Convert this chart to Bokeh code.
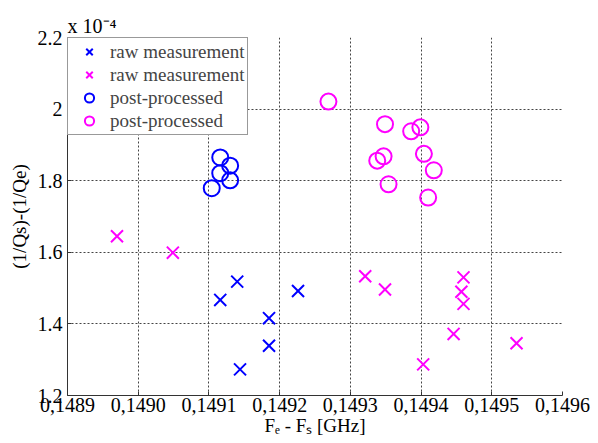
from bokeh.plotting import figure
from bokeh.models import (Range1d, FixedTicker, CustomJSTickFormatter, Legend,
                          LegendItem, Title)
from bokeh.embed import file_html
from bokeh.resources import INLINE

# ---- data (y in units of 1e-4) ----
raw_blue_x = [0.149140, 0.149116, 0.149185, 0.149185, 0.149144, 0.149226]
raw_blue_y = [1.518, 1.467, 1.416, 1.339, 1.273, 1.492]

raw_mag_x = [0.148970, 0.149049, 0.149321, 0.149349, 0.149460, 0.149457,
             0.149460, 0.149446, 0.149403, 0.149535]
raw_mag_y = [1.645, 1.599, 1.533, 1.496, 1.530, 1.490, 1.456, 1.372, 1.287, 1.346]

post_blue_x = [0.149116, 0.149130, 0.149116, 0.149130, 0.149104]
post_blue_y = [1.865, 1.842, 1.821, 1.801, 1.779]

post_mag_x = [0.149269, 0.149349, 0.149386, 0.149399, 0.149347, 0.149338,
              0.149404, 0.149418, 0.149354, 0.149410]
post_mag_y = [2.021, 1.958, 1.938, 1.949, 1.868, 1.856, 1.875, 1.829, 1.790, 1.753]

x_ticks = [0.1489, 0.1490, 0.1491, 0.1492, 0.1493, 0.1494, 0.1495, 0.1496]
x_tick_labels = ["0,1489", "0,1490", "0,1491", "0,1492", "0,1493", "0,1494", "0,1495", "0,1496"]
y_ticks = [1.2, 1.4, 1.6, 1.8, 2.0, 2.2]
y_tick_labels = ["1.2", "1.4", "1.6", "1.8", "2", "2.2"]

legend_labels = ["raw measurement", "raw measurement", "post-processed", "post-processed"]
x_label = "F\u2091 - F\u209b [GHz]"
y_label = "(1/Qs)-(1/Qe)"
scale_text = "x 10\u207b\u2074"

BLUE = "#0000ff"
MAG = "#ff00ff"
FONT = "Liberation Serif"

p = figure(width=597, height=442, output_backend="svg", toolbar_location=None,
           x_range=Range1d(x_ticks[0], x_ticks[-1]), y_range=Range1d(y_ticks[0], y_ticks[-1]),
           min_border_left=67, min_border_right=35, min_border_top=37, min_border_bottom=47)
p.outline_line_color = None
p.background_fill_color = "white"
p.border_fill_color = "white"

p.title = None
p.add_layout(Title(text=scale_text, align="left", text_font=FONT, text_font_size="20px",
                   text_font_style="normal", text_color="black", standoff=2, offset=0),
             "above")

fmt_js = """
const i = tvals.findIndex(t => Math.abs(t - tick) < 1e-9);
return i >= 0 ? tlabs[i] : "";
"""
p.xaxis.ticker = FixedTicker(ticks=x_ticks)
p.yaxis.ticker = FixedTicker(ticks=y_ticks)
p.xaxis.formatter = CustomJSTickFormatter(args=dict(tvals=x_ticks, tlabs=x_tick_labels), code=fmt_js)
p.yaxis.formatter = CustomJSTickFormatter(args=dict(tvals=y_ticks, tlabs=y_tick_labels), code=fmt_js)

for ax in (p.xaxis, p.yaxis):
    ax.major_tick_in = 4
    ax.major_tick_out = 0
    ax.minor_tick_line_color = None
    ax.axis_line_color = "#333333"
    ax.major_tick_line_color = "#333333"
    ax.major_label_text_font = FONT
    ax.major_label_text_font_size = "20px"
    ax.major_label_text_color = "black"
    ax.axis_label_text_font = FONT
    ax.axis_label_text_font_size = "19px"
    ax.axis_label_text_font_style = "normal"
    ax.axis_label_text_color = "black"
p.xaxis.major_label_standoff = 2
p.yaxis.major_label_standoff = 5
p.xaxis.axis_label = x_label
p.xaxis.axis_label_standoff = 0
p.yaxis.axis_label = y_label
p.yaxis.axis_label_standoff = 5

for g in (p.xgrid, p.ygrid):
    g.grid_line_color = "#444444"
    g.grid_line_dash = "2 2"
    g.grid_line_width = 1
    g.grid_line_alpha = 1.0

r1 = p.scatter(raw_blue_x, raw_blue_y, marker="x", size=17, line_color=BLUE, line_width=2)
r2 = p.scatter(raw_mag_x, raw_mag_y, marker="x", size=17, line_color=MAG, line_width=2)
r3 = p.scatter(post_blue_x, post_blue_y, marker="circle", size=16, line_color=BLUE,
               fill_color=None, line_width=2)
r4 = p.scatter(post_mag_x, post_mag_y, marker="circle", size=16, line_color=MAG,
               fill_color=None, line_width=2)

legend = Legend(items=[LegendItem(label=legend_labels[0], renderers=[r1]),
                       LegendItem(label=legend_labels[1], renderers=[r2]),
                       LegendItem(label=legend_labels[2], renderers=[r3]),
                       LegendItem(label=legend_labels[3], renderers=[r4])],
                location="top_left", margin=0, padding=2, spacing=0,
                glyph_width=38, glyph_height=23, label_height=18, label_standoff=2,
                label_text_font=FONT, label_text_font_size="19px",
                border_line_color="#333333", border_line_width=1,
                background_fill_color="white", background_fill_alpha=1.0)
p.add_layout(legend)

open("out.html", "w").write(file_html(p, INLINE))
